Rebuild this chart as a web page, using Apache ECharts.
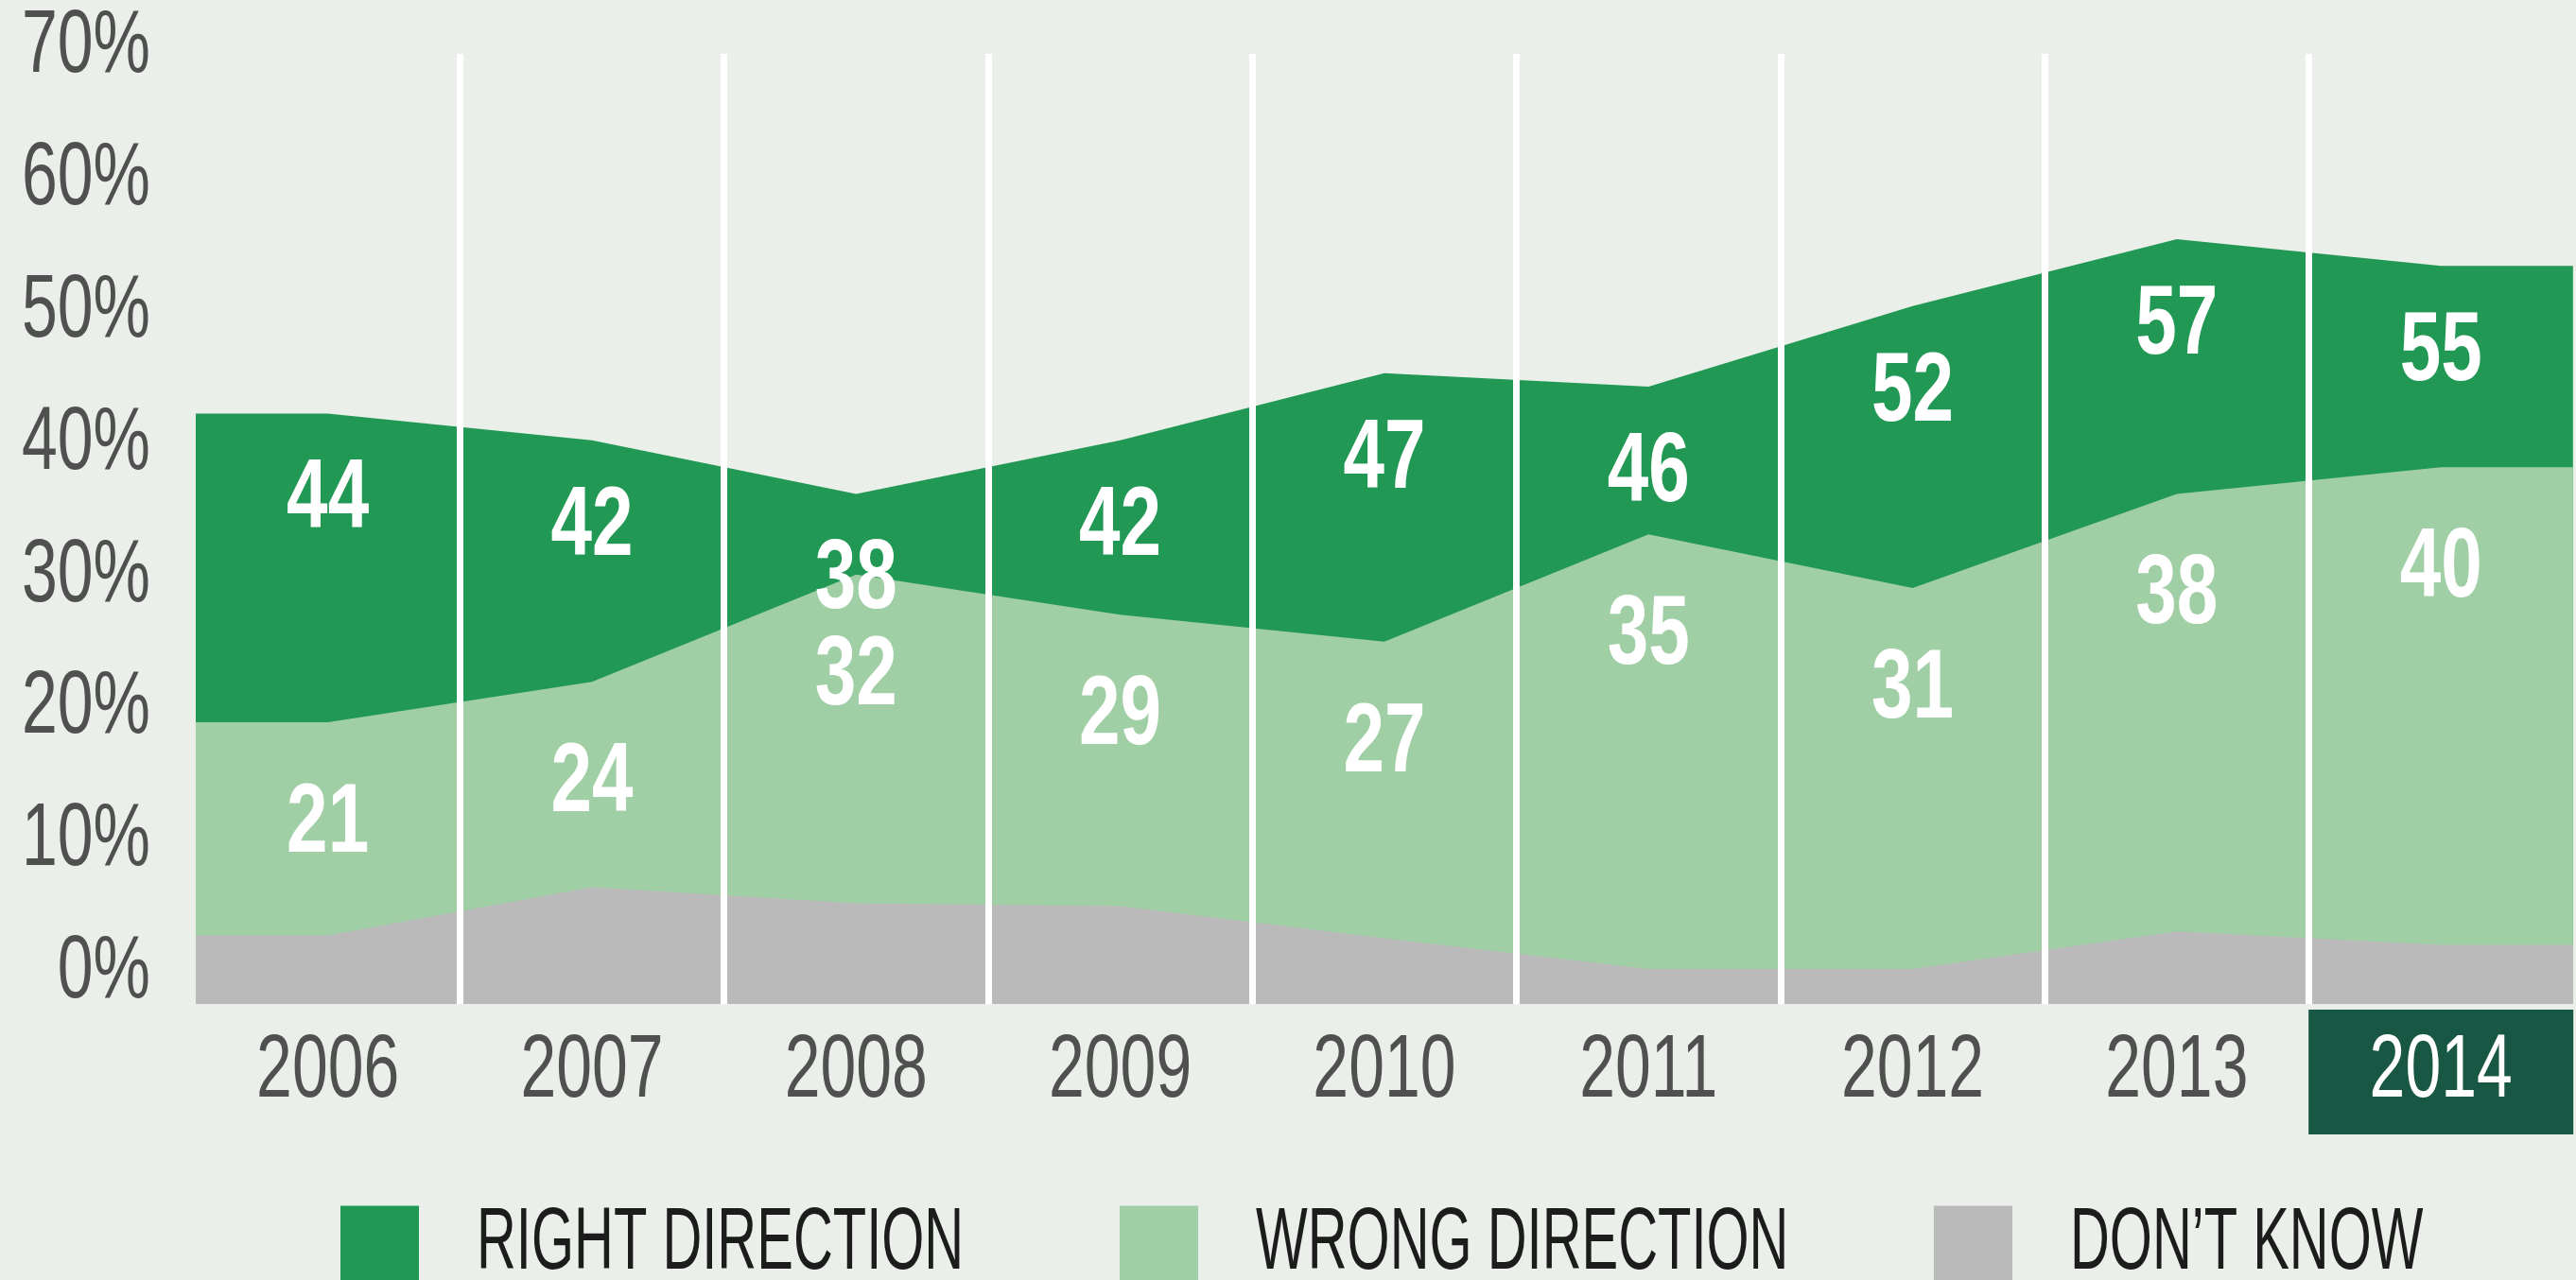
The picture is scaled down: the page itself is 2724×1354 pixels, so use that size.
<!DOCTYPE html>
<html>
<head>
<meta charset="utf-8">
<script src="https://cdn.jsdelivr.net/npm/echarts@6/dist/echarts.min.js"></script>
<style>
html,body{margin:0;padding:0;background:#eaefe9;}
#c{width:2724px;height:1354px;}
</style>
</head>
<body>
<div id="c"></div>
<script>
// ---- data ----
const years = ['2006','2007','2008','2009','2010','2011','2012','2013','2014'];
const rightDirection = [44, 42, 38, 42, 47, 46, 52, 57, 55];
const wrongDirection = [21, 24, 32, 29, 27, 35, 31, 38, 40];
const dontKnow = [5.1, 8.7, 7.5, 7.3, 4.9, 2.6, 2.6, 5.4, 4.4];
const yTickLabels = ['0%','10%','20%','30%','40%','50%','60%','70%'];
const seriesNames = ['RIGHT DIRECTION', 'WRONG DIRECTION', 'DON\u2019T KNOW'];
const highlightYear = '2014';

const FONT = "'Liberation Sans', Arial, sans-serif";
const AXIS_SIZE = 95, LABEL_SIZE = 103, LEGEND_SIZE = 92;
// horizontal condensing per font size (the reference uses a condensed face)
const CONDENSE = { 95: 0.715, 103: 0.76, 92: 0.63 };

const C_DARK = '#229855';
const C_LIGHT = '#a0cea5';
const C_GRAY = '#bababa';

function areaData(vals) {
  const n = vals.length;
  const pts = [{ value: [-0.5, vals[0]], label: { show: false } }];
  vals.forEach((v, i) => pts.push({ value: [i, v] }));
  pts.push({ value: [n - 0.5, vals[n - 1]], label: { show: false } });
  return pts;
}

function areaSeries(name, vals, color, labelDist) {
  return {
    name: name,
    type: 'line',
    xAxisIndex: 1,
    yAxisIndex: 0,
    data: areaData(vals),
    symbol: 'circle',
    symbolSize: 0,
    showSymbol: true,
    lineStyle: { width: 0 },
    itemStyle: { color: color },
    areaStyle: { color: color, opacity: 1 },
    label: labelDist == null ? { show: false } : {
      show: true,
      position: 'bottom',
      distance: labelDist,
      color: '#ffffff',
      fontFamily: FONT,
      fontWeight: 'bold',
      fontSize: LABEL_SIZE,
      lineHeight: LABEL_SIZE,
      formatter: p => String(p.value[1])
    },
    silent: true,
    animation: false
  };
}

function legendFor(name, left) {
  return {
    data: [name],
    left: left,
    top: 1271,
    orient: 'horizontal',
    icon: 'rect',
    itemWidth: 83,
    itemHeight: 83,
    itemGap: 0,
    padding: 0,
    selectedMode: false,
    textStyle: {
      fontFamily: FONT,
      fontSize: LEGEND_SIZE,
      color: '#1c1c1c',
      padding: [0, 0, 0, 56]
    }
  };
}

const chart = echarts.init(document.getElementById('c'), null, { renderer: 'canvas' });

chart.setOption({
  backgroundColor: '#eaefe9',
  animation: false,
  grid: [
    { left: 207, right: 0, top: 57, bottom: 292 },
    { left: 151, width: 10, top: 50, height: 979 }
  ],
  xAxis: [
    {
      type: 'category',
      gridIndex: 0,
      data: years,
      boundaryGap: true,
      z: 10,
      axisLine: { show: false },
      axisTick: { show: false },
      splitLine: {
        show: true,
        showMinLine: false,
        showMaxLine: false,
        interval: 0,
        lineStyle: { color: '#ffffff', width: 7 }
      },
      axisLabel: {
        interval: 0,
        margin: 3,
        formatter: v => v === highlightYear ? '{hl|' + v + '}' : '{n|' + v + '}',
        rich: {
          n: { fontFamily: FONT, fontSize: AXIS_SIZE, color: '#505050', height: 138, lineHeight: 138, align: 'center' },
          hl: { fontFamily: FONT, fontSize: AXIS_SIZE, color: '#ffffff', backgroundColor: '#185743',
                width: 280, height: 132, lineHeight: 138, align: 'center' }
        }
      }
    },
    { type: 'value', gridIndex: 0, min: -0.5, max: years.length - 0.5, show: false },
    { type: 'value', gridIndex: 1, show: false }
  ],
  yAxis: [
    { type: 'value', gridIndex: 0, min: 0, max: 70.8, show: false },
    {
      type: 'category',
      gridIndex: 1,
      data: yTickLabels,
      boundaryGap: false,
      axisLine: { show: false },
      axisTick: { show: false },
      splitLine: { show: false },
      axisLabel: { interval: 0, margin: 2, fontFamily: FONT, fontSize: AXIS_SIZE, color: '#505050' }
    }
  ],
  legend: [
    legendFor(seriesNames[0], 360),
    legendFor(seriesNames[1], 1184),
    legendFor(seriesNames[2], 2045)
  ],
  series: [
    areaSeries(seriesNames[0], rightDirection, C_DARK, 41),
    areaSeries(seriesNames[1], wrongDirection, C_LIGHT, 57),
    areaSeries(seriesNames[2], dontKnow, C_GRAY, null)
  ]
});

// condense glyphs horizontally around each text anchor (reference uses a condensed face)
function condense() {
  const zr = chart.getZr();
  const list = zr.storage.getDisplayList(true);
  let changed = false;
  list.forEach(function (el) {
    if (el.type !== 'tspan' || !el.style || !el.style.font) return;
    const m = /(\d+)px/.exec(el.style.font);
    if (!m) return;
    const s = CONDENSE[+m[1]];
    if (!s) return;
    const ox = el.style.x || 0, oy = el.style.y || 0;
    if (el.scaleX !== s || el.originX !== ox || el.originY !== oy) {
      el.originX = ox;
      el.originY = oy;
      el.scaleX = s;
      el.markRedraw();
      changed = true;
    }
  });
  if (changed) zr.refreshImmediately();
}
condense();
chart.on('finished', condense);
setTimeout(condense, 50);
</script>
</body>
</html>
